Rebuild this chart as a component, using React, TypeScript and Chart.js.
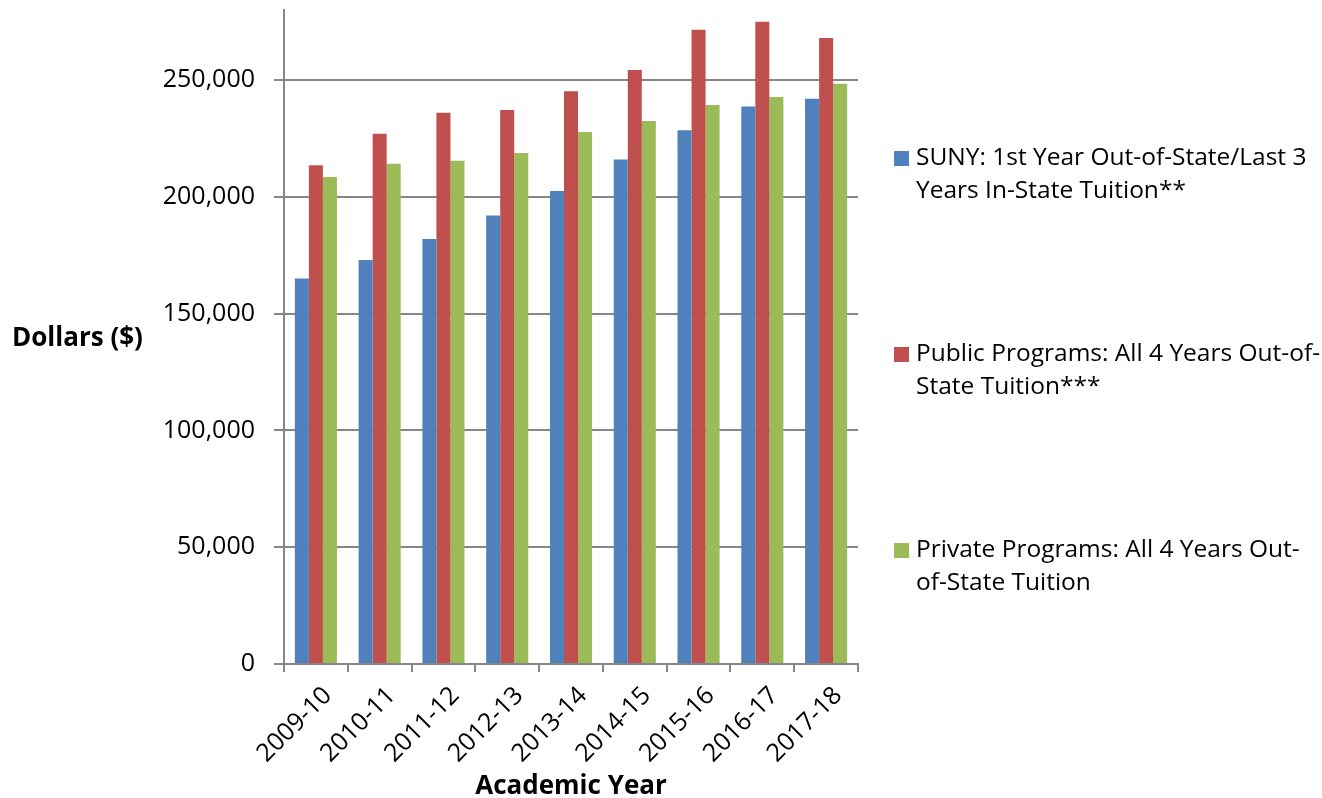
import React, { useEffect, useRef } from "react";
import { Chart, registerables } from "chart.js";

Chart.register(...registerables);

const years = ["2009-10", "2010-11", "2011-12", "2012-13", "2013-14", "2014-15", "2015-16", "2016-17", "2017-18"];
const sunyValues = [165000, 173000, 182000, 192000, 202500, 216000, 228500, 238700, 242000];
const publicValues = [213500, 227000, 236000, 237200, 245200, 254300, 271500, 275000, 268000];
const privateValues = [208500, 214200, 215500, 218800, 227800, 232500, 239300, 242700, 248400];

const sunyLabel = ["SUNY: 1st Year Out-of-State/Last 3", "Years In-State Tuition**"];
const publicLabel = ["Public Programs: All 4 Years Out-of-", "State Tuition***"];
const privateLabel = ["Private Programs: All 4 Years Out-", "of-State Tuition"];

const yMin = 0;
const yMax = 280000;
const yTickValues = [0, 50000, 100000, 150000, 200000, 250000];

const yTitle = "Dollars ($)";
const xTitle = "Academic Year";

const FONT = "'Open Sans', 'Noto Sans', sans-serif";
const colors = ["#4F81BD", "#C0504D", "#9BBB59"];
const labelLines = [sunyLabel, publicLabel, privateLabel];

const overlayPlugin = {
  id: "overlay",
  afterDraw(chart: any) {
    const ctx = chart.ctx;
    const area = chart.chartArea;
    ctx.save();
    ctx.fillStyle = "#000";
    ctx.textBaseline = "middle";
    ctx.textAlign = "left";
    ctx.font = `bold 26px ${FONT}`;
    ctx.fillText(yTitle, 12, 339);

    const legendX = area.right + 36;
    chart.data.datasets.forEach((ds: any, i: number) => {
      const y0 = 158 + i * 196;
      ctx.fillStyle = ds.backgroundColor;
      ctx.fillRect(legendX, y0 - 7, 15, 15);
      ctx.fillStyle = "#000";
      ctx.font = `24.5px ${FONT}`;
      labelLines[i].forEach((line, j) => {
        ctx.fillText(line, legendX + 22, y0 + j * 33);
      });
    });
    ctx.restore();
  },
};

export default function App() {
  const ref = useRef<HTMLCanvasElement>(null);

  useEffect(() => {
    if (!ref.current) return;
    const chart = new Chart(ref.current, {
      type: "bar",
      data: {
        labels: years,
        datasets: [
          { label: sunyLabel.join(" "), data: sunyValues, backgroundColor: colors[0] },
          { label: publicLabel.join(" "), data: publicValues, backgroundColor: colors[1] },
          { label: privateLabel.join(" "), data: privateValues, backgroundColor: colors[2] },
        ],
      },
      options: {
        responsive: false,
        animation: false,
        devicePixelRatio: 1,
        layout: { padding: { left: 0, right: 464, top: 10, bottom: 0 } },
        datasets: { bar: { categoryPercentage: 0.66, barPercentage: 1.0 } },
        plugins: { legend: { display: false }, tooltip: { enabled: false } },
        scales: {
          x: {
            grid: { display: true, drawOnChartArea: false, drawTicks: true, tickLength: 8, color: "#868686", lineWidth: 2, offset: true },
            border: { display: true, color: "#868686", width: 2 },
            ticks: { font: { family: FONT, size: 25 }, color: "#000", maxRotation: 45, minRotation: 45, padding: 9, labelOffset: 12 },
            title: { display: true, text: xTitle, font: { family: FONT, size: 26, weight: "bold", lineHeight: 1.0 }, color: "#000", padding: { top: 0, bottom: -2 } },
            afterFit(scale: any) {
              scale.height = 134;
              scale.paddingLeft = 0;
              scale.paddingRight = 0;
            },
          },
          y: {
            min: yMin,
            max: yMax,
            ticks: {
              font: { family: FONT, size: 25 },
              color: "#000",
              padding: 19,
              callback: (v: any) => Number(v).toLocaleString("en-US"),
            },
            afterBuildTicks(scale: any) { scale.ticks = yTickValues.map((v) => ({ value: v })); },
            grid: { color: "#868686", lineWidth: 2, tickLength: 10 },
            border: { color: "#868686", width: 2 },
            afterFit(scale: any) {
              scale.width = 284;
              scale.paddingTop = 0;
              scale.paddingBottom = 0;
            },
          },
        },
      },
      plugins: [overlayPlugin],
    } as any);
    return () => chart.destroy();
  }, []);

  return (
    <div style={{ position: "fixed", left: 0, top: 0, width: 1322, height: 798, background: "#fff" }}>
      <canvas ref={ref} width={1322} height={798} />
    </div>
  );
}
